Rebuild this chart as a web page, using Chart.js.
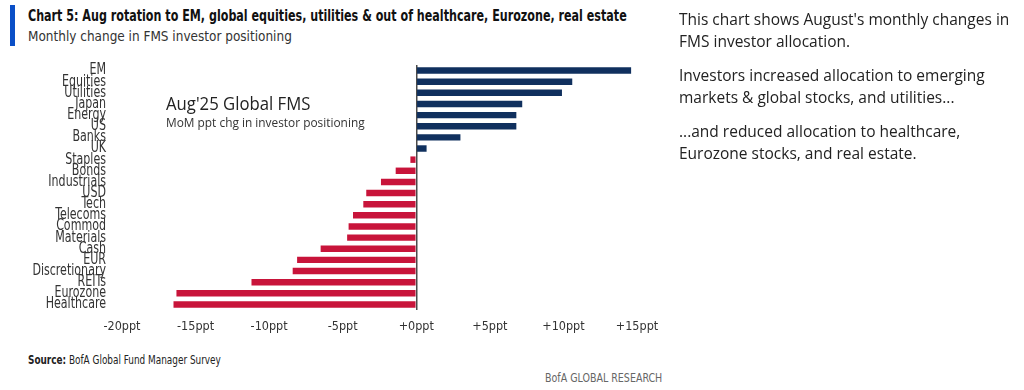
<!DOCTYPE html>
<html>
<head>
<meta charset="utf-8">
<script src="https://cdn.jsdelivr.net/npm/chart.js@4"></script>
<style>
  body { margin: 0; width: 1024px; height: 390px; background: #fff; position: relative; overflow: hidden; font-family: "DejaVu Sans Condensed", "Open Sans", sans-serif; color: #222; }
  .sq { transform-origin: 0 50%; }
  #bar { position: absolute; left: 10px; top: 5px; width: 5px; height: 41px; background: #0a4fc7; }
  #title { position: absolute; left: 28px; top: 7px; font-weight: bold; font-size: 15px; color: #111; white-space: nowrap; transform: scaleX(0.825); }
  #sub { position: absolute; left: 28px; top: 28px; font-size: 14px; color: #333; white-space: nowrap; transform: scaleX(0.96); }
  #note1 { position: absolute; left: 166px; top: 90px; font-family: "Open Sans", sans-serif; font-size: 19px; color: #222; white-space: nowrap; transform: scaleX(0.88); }
  #note2 { position: absolute; left: 166px; top: 114px; font-family: "Open Sans", sans-serif; font-size: 12.5px; color: #333; white-space: nowrap; transform: scaleX(0.95); }
  #side { position: absolute; left: 679px; top: 8px; width: 345px; font-family: "Open Sans", sans-serif; font-size: 15.5px; line-height: 22px; color: #222; }
  #side p { margin: 0 0 12px 0; }
  #source { position: absolute; left: 28px; top: 353px; font-size: 11.5px; color: #222; white-space: nowrap; transform: scaleX(0.86); }
  #brand { position: absolute; left: 545px; top: 371px; font-size: 12px; color: #666; white-space: nowrap; transform: scaleX(0.88); }
  #wrap { position: absolute; left: 0; top: 0; width: 680px; height: 345px; }
</style>
</head>
<body>
<div id="bar"></div>
<div id="title" class="sq">Chart 5: Aug rotation to EM, global equities, utilities &amp; out of healthcare, Eurozone, real estate</div>
<div id="sub" class="sq">Monthly change in FMS investor positioning</div>
<div id="wrap"><canvas id="myChart"></canvas></div>
<div id="note1" class="sq">Aug'25 Global FMS</div>
<div id="note2" class="sq">MoM ppt chg in investor positioning</div>
<div id="side">
  <p>This chart shows August's monthly changes in FMS investor allocation.</p>
  <p>Investors increased allocation to emerging markets &amp; global stocks, and utilities...</p>
  <p>...and reduced allocation to healthcare, Eurozone stocks, and real estate.</p>
</div>
<div id="source" class="sq"><b>Source:</b> BofA Global Fund Manager Survey</div>
<div id="brand" class="sq">BofA GLOBAL RESEARCH</div>
<script>
const categories = ['EM', 'Equities', 'Utilities', 'Japan', 'Energy', 'US', 'Banks', 'UK', 'Staples', 'Bonds',
    'Industrials', 'USD', 'Tech', 'Telecoms', 'Commod', 'Materials', 'Cash', 'EUR', 'Discretionary', 'REITs',
    'Eurozone', 'Healthcare'];
const changes = [14.6, 10.6, 9.9, 7.2, 6.8, 6.8, 3.0, 0.7, -0.4, -1.4,
    -2.4, -3.4, -3.6, -4.3, -4.6, -4.7, -6.5, -8.1, -8.4, -11.2,
    -16.3, -16.5];
const tickValues = [-20, -15, -10, -5, 0, 5, 10, 15];

const BLUE = '#10305e';
const RED = '#c8143a';
const labelFont = '"DejaVu Sans Condensed", "Open Sans", sans-serif';

const ctx = document.getElementById('myChart').getContext('2d');

// category labels in the original are a tall condensed face: squeeze them horizontally
function squeezeLabels(axis) {
    if (axis._squeezed) return;
    axis._squeezed = true;
    const orig = axis.drawLabels;
    axis.drawLabels = function(area) {
        const c = this.ctx;
        const x0 = this.right - this.options.ticks.padding;
        c.save();
        c.translate(x0, 0);
        c.scale(0.82, 1);
        c.translate(-x0, 0);
        orig.call(this, area);
        c.restore();
    };
}

const data = {
    labels: categories,
    datasets: [{
        data: changes,
        backgroundColor: changes.map(v => v >= 0 ? BLUE : RED),
        categoryPercentage: 1,
        barPercentage: 0.58
    }]
};

const options = {
    indexAxis: 'y',
    responsive: true,
    maintainAspectRatio: false,
    animation: false,
    layout: { padding: { top: 65, right: 43, left: 0, bottom: 0 } },
    plugins: { legend: { display: false }, tooltip: { enabled: false } },
    scales: {
        x: {
            min: -20,
            max: 15,
            border: { display: false },
            grid: {
                drawTicks: false,
                color: c => c.tick && c.tick.value === 0 ? '#4a4a4a' : 'rgba(0,0,0,0)',
                lineWidth: c => c.tick && c.tick.value === 0 ? 1.5 : 0
            },
            afterBuildTicks: axis => { axis.ticks = tickValues.map(v => ({ value: v })); },
            afterFit: axis => { axis.height = 35; },
            ticks: {
                padding: 9,
                color: '#333',
                font: { family: labelFont, size: 12.5 },
                callback: v => (v >= 0 ? '+' : '') + v + 'ppt'
            }
        },
        y: {
            border: { display: false },
            grid: { display: false, drawTicks: false },
            afterFit: axis => { axis.width = 122; squeezeLabels(axis); },
            ticks: {
                padding: 16,
                autoSkip: false,
                color: '#333',
                font: { family: labelFont, size: 15 }
            }
        }
    }
};

let graph = new Chart(ctx, { type: 'bar', data: data, options: options });
</script>
</body>
</html>
